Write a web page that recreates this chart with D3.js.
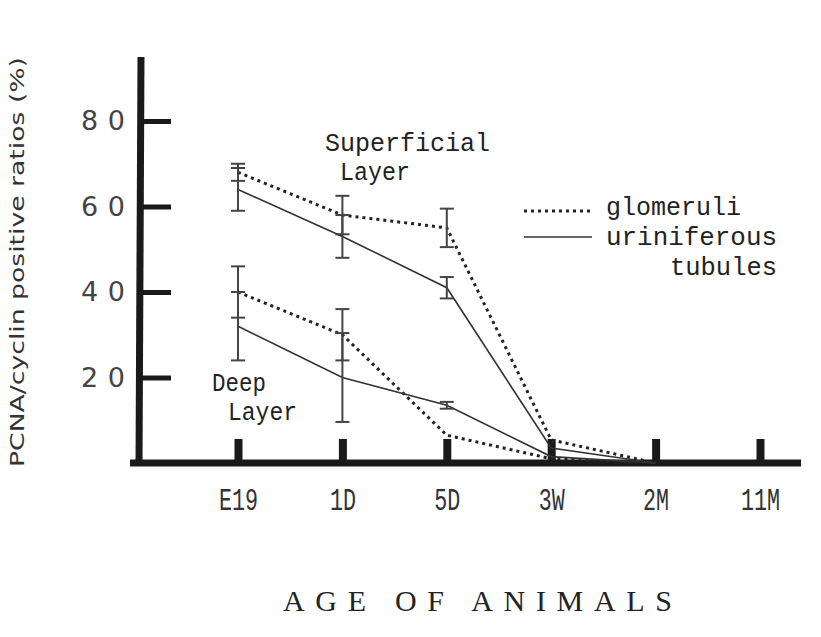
<!DOCTYPE html>
<html>
<head>
<meta charset="utf-8">
<script src="https://cdn.jsdelivr.net/npm/d3@7"></script>
<style>
  body { margin:0; background:#fff; }
  .canvas { width:821px; height:637px; }
</style>
</head>
<body>
<div class="canvas" id="canvas"></div>
<script>
// values (%), null = no point
var categories = ['E19','1D','5D','3W','2M','11M'];
var yTicks = [20,40,60,80];

var supGlom    = [68, 58, 55, 5.4, 0, null];
var supGlomErr = [2, 4.5, 4.5, 0, 0, null];
var supTub     = [64, 53, 41, 3.5, 0, null];
var supTubErr  = [5, 5, 2.5, 0, 0, null];
var deepGlom    = [40, 30, 6.5, 1, 0, null];
var deepGlomErr = [6, 6, 0, 0, 0, null];
var deepTub     = [32, 20, 13.5, 1.5, 0, null];
var deepTubErr  = [8, 10.4, 0.8, 0, 0, null];

var outerWidth = 821, outerHeight = 637;

var svg = d3.select('.canvas')
    .append('svg')
    .attr('width',outerWidth)
    .attr('height',outerHeight);

var scaleX = d3.scalePoint()
    .domain(categories)
    .range([238,760]);
var scaleY = d3.scaleLinear()
    .domain([0,80])
    .range([463,121]);

var ink = '#1a1a1a';

//y axis: thick line, ticks pointing inward, labels to the left
var axisY = d3.axisLeft(scaleY)
    .tickValues(yTicks)
    .tickSize(-30)
    .tickSizeOuter(0)
    .tickPadding(16);

var gy = svg.append('g')
    .attr('class','axis axis-y')
    .attr('transform','translate(141,0)')
    .call(axisY);
gy.select('.domain').remove();
gy.selectAll('.tick line').attr('stroke',ink).attr('stroke-width',5);
gy.selectAll('.tick text')
    .attr('fill','#444')
    .attr('textLength',44)
    .attr('lengthAdjust','spacing')
    .style('font-family','DejaVu Sans')
    .style('font-size','27px');

svg.append('line')
    .attr('x1',141).attr('x2',139)
    .attr('y1',57).attr('y2',466)
    .attr('stroke',ink).attr('stroke-width',7);

//x axis
var axisX = d3.axisBottom(scaleX)
    .tickSize(-26)
    .tickSizeOuter(0)
    .tickPadding(25);

var gx = svg.append('g')
    .attr('class','axis axis-x')
    .attr('transform','translate(0,463)')
    .call(axisX);
gx.select('.domain').remove();
gx.selectAll('.tick line').attr('stroke',ink).attr('stroke-width',8).attr('y2',-24);
gx.selectAll('.tick text')
    .attr('fill','#333')
    .attr('textLength',function(d){ return d.length*13; })
    .attr('lengthAdjust','spacingAndGlyphs')
    .style('font-family','Liberation Mono')
    .style('font-size','31px');

svg.append('line')
    .attr('x1',130).attr('x2',801)
    .attr('y1',463).attr('y2',463)
    .attr('stroke',ink).attr('stroke-width',7);

//series
var series = [
    {vals:supGlom, err:supGlomErr, dotted:true},
    {vals:supTub, err:supTubErr, dotted:false},
    {vals:deepGlom, err:deepGlomErr, dotted:true},
    {vals:deepTub, err:deepTubErr, dotted:false}
];

var line = d3.line()
    .defined(function(d){ return d.v !== null; })
    .x(function(d){ return scaleX(d.c); })
    .y(function(d){ return scaleY(d.v); });

series.forEach(function(s){
    var pts = categories.map(function(c,i){ return {c:c, v:s.vals[i], e:s.err[i]}; });

    svg.append('path')
        .datum(pts)
        .attr('d',line)
        .attr('fill','none')
        .attr('stroke', s.dotted ? '#222' : '#333')
        .attr('stroke-width', s.dotted ? 3 : 1.6)
        .attr('stroke-dasharray', s.dotted ? '3,4' : null);

    var bars = pts.filter(function(d){ return d.v !== null && d.e > 0; });
    var g = svg.append('g').selectAll('g')
        .data(bars)
        .enter()
        .append('g')
        .attr('stroke','#444')
        .attr('stroke-width',2);
    g.append('line')
        .attr('x1',function(d){ return scaleX(d.c); })
        .attr('x2',function(d){ return scaleX(d.c); })
        .attr('y1',function(d){ return scaleY(d.v+d.e); })
        .attr('y2',function(d){ return scaleY(d.v-d.e); });
    [1,-1].forEach(function(sign){
        g.append('line')
            .attr('x1',function(d){ return scaleX(d.c)-7; })
            .attr('x2',function(d){ return scaleX(d.c)+7; })
            .attr('y1',function(d){ return scaleY(d.v+sign*d.e); })
            .attr('y2',function(d){ return scaleY(d.v+sign*d.e); });
    });
});

//annotations
function label(txt,x,y,len,size){
    svg.append('text')
        .attr('x',x).attr('y',y)
        .attr('textLength',len)
        .attr('lengthAdjust','spacingAndGlyphs')
        .attr('fill','#222')
        .style('font-family','Liberation Mono')
        .style('font-size',size+'px')
        .text(txt);
}
label('Superficial',325,151,165,25);
label('Layer',340,180,70,25);
label('Deep',212,391,54,25);
label('Layer',228,420,69,25);

//legend
svg.append('line')
    .attr('x1',524).attr('x2',592).attr('y1',211).attr('y2',211)
    .attr('stroke','#222').attr('stroke-width',3).attr('stroke-dasharray','3,4');
svg.append('line')
    .attr('x1',524).attr('x2',592).attr('y1',237).attr('y2',237)
    .attr('stroke','#333').attr('stroke-width',1.6);
label('glomeruli',606,215,135,25);
label('uriniferous',606,245,171,25);
label('tubules',670,275,107,25);

//axis titles
svg.append('text')
    .attr('transform','translate(24,262) rotate(-90)')
    .attr('text-anchor','middle')
    .attr('textLength',410)
    .attr('lengthAdjust','spacingAndGlyphs')
    .attr('fill','#333')
    .style('font-family','DejaVu Sans')
    .style('font-size','20px')
    .text('PCNA/cyclin positive ratios (%)');

svg.append('text')
    .attr('x',283).attr('y',611)
    .attr('textLength',389)
    .attr('lengthAdjust','spacing')
    .attr('fill','#222')
    .style('font-family','Liberation Serif')
    .style('font-size','30px')
    .text('AGE OF ANIMALS');
</script>
</body>
</html>
